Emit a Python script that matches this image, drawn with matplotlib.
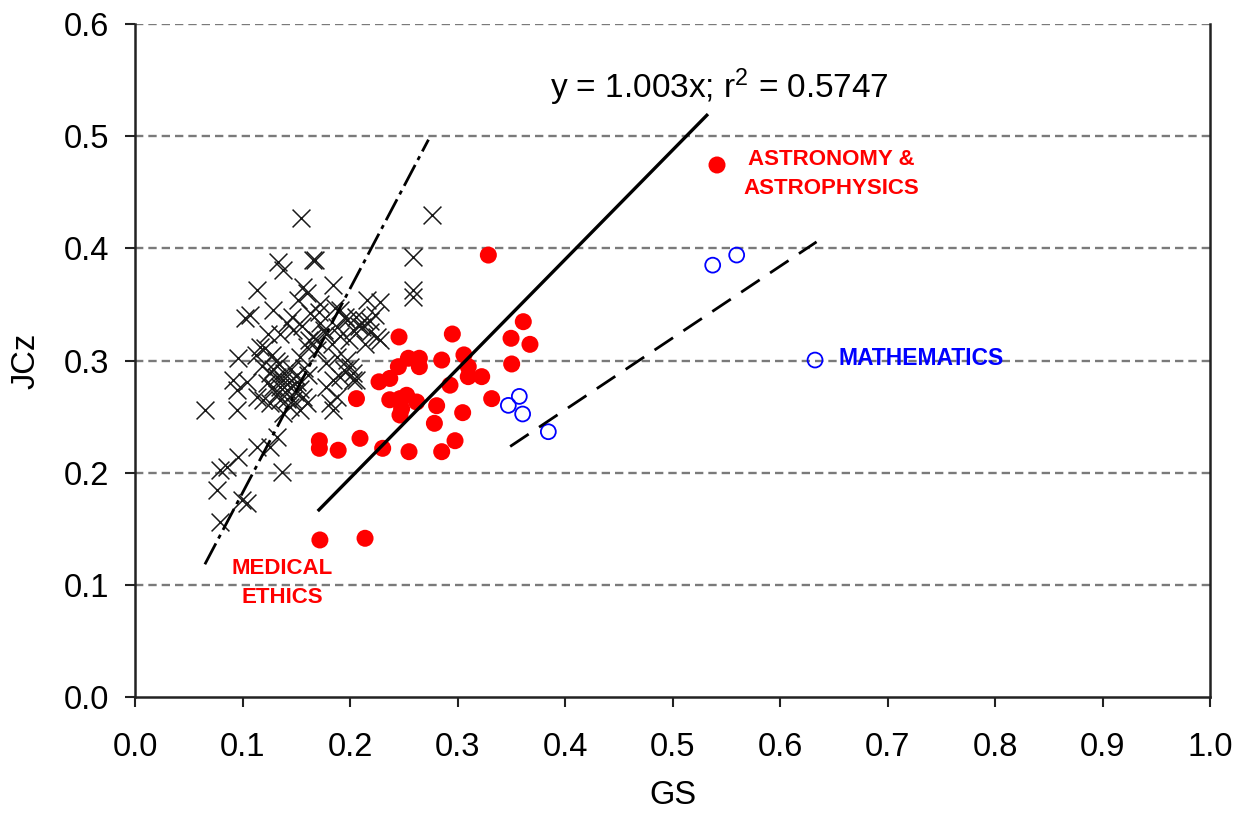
import matplotlib
matplotlib.use("Agg")
import matplotlib.pyplot as plt
import numpy as np

plt.rcParams['font.family'] = ['Liberation Sans', 'DejaVu Sans']
plt.rcParams['mathtext.default'] = 'regular'
plt.rcParams['lines.scale_dashes'] = False

# ---- data ----
other_x = [0.154, 0.1653, 0.1333, 0.138, 0.1132, 0.1845, 0.259, 0.259, 0.259, 0.228, 0.2155,
           0.107, 0.1023, 0.1287, 0.1566, 0.1597, 0.152, 0.141, 0.147, 0.135, 0.124, 0.172,
           0.178, 0.166, 0.1907, 0.197, 0.1876, 0.206, 0.211, 0.2186, 0.225, 0.228, 0.203,
           0.1597, 0.169, 0.1535, 0.096, 0.113, 0.116, 0.178, 0.1876, 0.197, 0.200, 0.203,
           0.194, 0.206, 0.0915, 0.0946, 0.104, 0.1256, 0.132, 0.138, 0.135, 0.141, 0.1287,
           0.1225, 0.1504, 0.1535, 0.1566, 0.147, 0.1132, 0.119, 0.1256, 0.135, 0.144, 0.138,
           0.1597, 0.1535, 0.178, 0.1845, 0.1907, 0.1876, 0.203, 0.181, 0.1845, 0.065, 0.0946,
           0.132, 0.1256, 0.1132, 0.096, 0.0853, 0.079, 0.1365, 0.076, 0.0992, 0.104, 0.079,
           0.2763, 0.1674, 0.223, 0.145, 0.162, 0.118, 0.131, 0.172, 0.214, 0.219,
           0.128, 0.134, 0.139, 0.143, 0.150, 0.157, 0.161, 0.169, 0.176, 0.183, 0.191,
           0.199, 0.208, 0.213, 0.121, 0.127, 0.146, 0.155, 0.163, 0.171, 0.186, 0.195,
           0.132, 0.141, 0.149]
other_y = [0.4268, 0.3896, 0.388, 0.3807, 0.3628, 0.3673, 0.3925, 0.363, 0.357, 0.3524, 0.354,
           0.3405, 0.3376, 0.345, 0.3658, 0.36, 0.354, 0.333, 0.327, 0.324, 0.324, 0.333,
           0.324, 0.321, 0.345, 0.336, 0.330, 0.339, 0.330, 0.3256, 0.321, 0.318, 0.327,
           0.312, 0.309, 0.3034, 0.302, 0.305, 0.312, 0.2975, 0.3034, 0.3004, 0.2945, 0.2886,
           0.2915, 0.2826, 0.2826, 0.2737, 0.281, 0.2886, 0.2856, 0.2826, 0.2766, 0.2737, 0.2766,
           0.2796, 0.281, 0.275, 0.2677, 0.2648, 0.2677, 0.2648, 0.2618, 0.2648, 0.2588, 0.253,
           0.2618, 0.2559, 0.2766, 0.2826, 0.2856, 0.2677, 0.2826, 0.2618, 0.2559, 0.2559, 0.2559,
           0.232, 0.223, 0.223, 0.2142, 0.2053, 0.2024, 0.2009, 0.1845, 0.1756, 0.1727, 0.1563,
           0.4297, 0.390, 0.341, 0.292, 0.318, 0.295, 0.300, 0.350, 0.315, 0.335,
           0.292, 0.297, 0.289, 0.281, 0.286, 0.293, 0.287, 0.318, 0.327, 0.315, 0.322,
           0.318, 0.331, 0.336, 0.311, 0.305, 0.339, 0.331, 0.342, 0.343, 0.347, 0.339,
           0.270, 0.266, 0.272]

red_x = [0.3287, 0.2456, 0.2952, 0.3612, 0.3498, 0.3674, 0.3504, 0.2543, 0.2645, 0.2645,
         0.245, 0.2853, 0.306, 0.310, 0.310, 0.3225, 0.293, 0.227, 0.237, 0.3318, 0.206,
         0.237, 0.2465, 0.2527, 0.262, 0.248, 0.2465, 0.2806, 0.3048, 0.2785, 0.2093,
         0.2977, 0.1715, 0.1715, 0.189, 0.2304, 0.2549, 0.2853, 0.172, 0.214, 0.5414]
red_y = [0.394, 0.321, 0.3236, 0.3346, 0.3198, 0.3144, 0.2969, 0.302, 0.302, 0.2945,
         0.2945, 0.3004, 0.305, 0.2945, 0.2856, 0.2856, 0.278, 0.281, 0.284, 0.266, 0.266,
         0.265, 0.266, 0.269, 0.263, 0.257, 0.2514, 0.2597, 0.2535, 0.244, 0.2306,
         0.2285, 0.2285, 0.2217, 0.220, 0.2217, 0.2187, 0.2187, 0.140, 0.1415, 0.4743]

blue_x = [0.5374, 0.5597, 0.3575, 0.3473, 0.3606, 0.3845, 0.6326]
blue_y = [0.385, 0.394, 0.268, 0.260, 0.2523, 0.2365, 0.3004]

# trend lines: slope through origin, x range
fit_slope, fit_xr = 0.975, [0.170, 0.533]
steep_slope, steep_xr = 1.82, [0.065, 0.273]
flat_slope, flat_xr = 0.64, [0.349, 0.634]

x_ticks = [0.0, 0.1, 0.2, 0.3, 0.4, 0.5, 0.6, 0.7, 0.8, 0.9, 1.0]
y_ticks = [0.0, 0.1, 0.2, 0.3, 0.4, 0.5, 0.6]

# ---- figure ----
fig = plt.figure(figsize=(12.38, 8.17), dpi=100)
ax = fig.add_axes([135/1238, 1 - 697/817, (1210 - 135)/1238, (697 - 24)/817])
ax.set_xlim(0, 1.0)
ax.set_ylim(0, 0.6)

for yv in y_ticks[1:]:
    ax.axhline(yv, color='#7a7a7a', lw=1.7, dashes=(6, 3.6), zorder=0)

ax.scatter(other_x, other_y, marker='x', s=165, color='#1a1a1a', linewidths=1.1, zorder=2)
ax.scatter(red_x, red_y, marker='o', s=150, color='#ff0000', edgecolors='none', zorder=3)
ax.scatter(blue_x, blue_y, marker='o', s=115, facecolors='none', edgecolors='#0000ff',
           linewidths=1.3, zorder=3)

fx = np.array(fit_xr)
ax.plot(fx, fit_slope * fx, color='black', lw=2.4, zorder=4, solid_capstyle='butt')
sx = np.array(steep_xr)
ax.plot(sx, steep_slope * sx, color='black', lw=2.0, dashes=(17, 4, 3, 4), zorder=4)
dx = np.array(flat_xr)
ax.plot(dx, flat_slope * dx, color='black', lw=2.0, dashes=(16, 9), zorder=4)

ax.text(0.386, 0.5438, 'y = 1.003x; r$^{2}$ = 0.5747', fontsize=24, ha='left', va='center')
ax.text(0.6474, 0.4663, 'ASTRONOMY &\nASTROPHYSICS', color='#ff0000', fontsize=16,
        fontweight='bold', ha='center', va='center', multialignment='center', linespacing=1.45)
ax.text(0.654, 0.3015, 'MATHEMATICS', color='#0000ff', fontsize=16.5, fontweight='bold',
        ha='left', va='center')
ax.text(0.1367, 0.1016, 'MEDICAL\nETHICS', color='#ff0000', fontsize=16, fontweight='bold',
        ha='center', va='center', multialignment='center', linespacing=1.45)

ax.set_xticks(x_ticks)
ax.set_yticks(y_ticks)
ax.set_xticklabels([f'{v:.1f}' for v in x_ticks])
ax.set_yticklabels([f'{v:.1f}' for v in y_ticks])
ax.tick_params(axis='both', direction='out', length=7.5, width=1.5, labelsize=23.5, color='#222222')
ax.tick_params(axis='x', pad=18)
ax.tick_params(axis='y', pad=11)

for side in ['left', 'bottom', 'right']:
    ax.spines[side].set_color('#222222')
    ax.spines[side].set_linewidth(1.8)
ax.spines['top'].set_visible(False)

ax.set_xlabel('GS', fontsize=23.5, labelpad=12)
ax.set_ylabel('JCz', fontsize=23.5, labelpad=16)

fig.savefig('out.png', dpi=100)
